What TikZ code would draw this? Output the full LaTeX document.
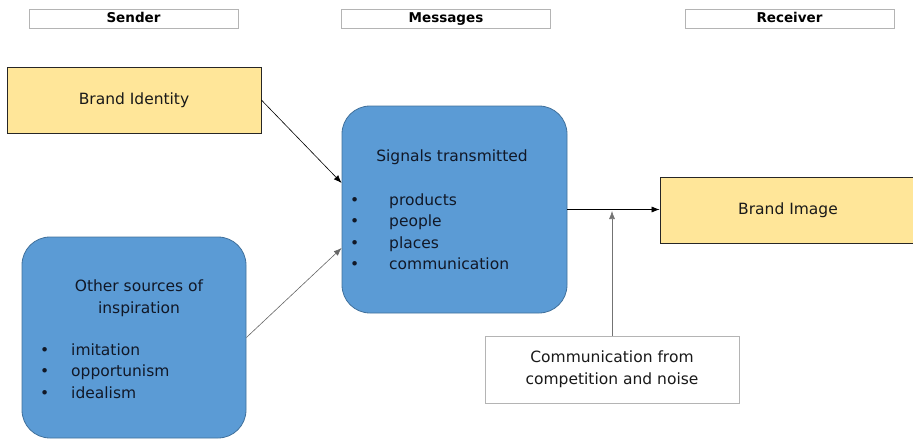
\documentclass[tikz,border=0pt]{standalone}
\usepackage{fontspec}
\setmainfont{DejaVu Sans}
\usetikzlibrary{arrows.meta}
\definecolor{boxblue}{HTML}{5B9BD5}
\definecolor{blueedge}{HTML}{41719C}
\definecolor{boxyellow}{HTML}{FFE699}
\definecolor{hdredge}{HTML}{B4B4B4}
\definecolor{txtnavy}{HTML}{111827}
\tikzset{
 hdr/.style={draw=hdredge, line width=0.6pt, minimum width=209pt, minimum height=19pt, inner sep=0pt, text height=9.5pt, text depth=2.5pt, font=\fontsize{13.5}{15}\selectfont\bfseries},
 ybox/.style={draw=black!85, fill=boxyellow, line width=0.8pt, inner sep=0pt, font=\fontsize{15.5}{18}\selectfont, text=black!90},
 bbox/.style={draw=blueedge, fill=boxblue, line width=0.8pt, rounded corners=28pt, inner sep=0pt},
 wbox/.style={draw=hdredge, fill=white, line width=0.6pt, inner sep=0pt},
 txt/.style={font=\fontsize{15.5}{21.5}\selectfont, inner sep=0pt, text=txtnavy},
 arr/.style={-{Latex[length=8pt,width=6pt]}, line width=0.6pt},
}
\begin{document}
\begin{tikzpicture}[x=1pt,y=-1pt]
\useasboundingbox (0,0) rectangle (913,439);
% headers
\node[hdr] (hs) at (133.5,19) {Sender};
\node[hdr] (hm) at (446,19) {Messages};
\node[hdr] (hr) at (789.5,19) {Receiver};
% boxes
\node[ybox, minimum width=254pt, minimum height=66pt] (bi) at (134,100) {Brand Identity};
\node[bbox, minimum width=224pt, minimum height=201pt] (os) at (134,337.5) {};
\node[bbox, minimum width=225pt, minimum height=207pt] (sig) at (454.5,209.5) {};
\node[ybox, minimum width=256pt, minimum height=66pt] (bimg) at (788,210) {Brand Image};
\node[wbox, minimum width=254pt, minimum height=67pt] (cm) at (612,369.5) {};
% texts
\node[txt, align=center] (ost) at (139,298) {Other sources of\\inspiration};
\node[txt, align=left, anchor=base west] (osl) at (40,398)
  {\makebox[31pt][l]{•}imitation\\\makebox[31pt][l]{•}opportunism\\\makebox[31pt][l]{•}idealism};
\node[txt] (sigt) at (452,157) {Signals transmitted};
\node[txt, align=left, anchor=base west] (sigl) at (350,269.5)
  {\makebox[39pt][l]{•}products\\\makebox[39pt][l]{•}people\\\makebox[39pt][l]{•}places\\\makebox[39pt][l]{•}communication};
\node[txt, align=center, text=black!90] (cmt) at (612,369) {Communication from\\competition and noise};
% connectors
\draw[arr] (bi.east) -- ([yshift=26.5pt]sig.west);
\draw[arr, draw=black!60] (os.east) -- ([yshift=-38.5pt]sig.west);
\draw[arr] (sig.east) -- (sig.east -| bimg.west);
\draw[arr, draw=black!55] (cm.north) -- ([yshift=-1.5pt]cm.north |- sig.east);
\end{tikzpicture}
\end{document}
